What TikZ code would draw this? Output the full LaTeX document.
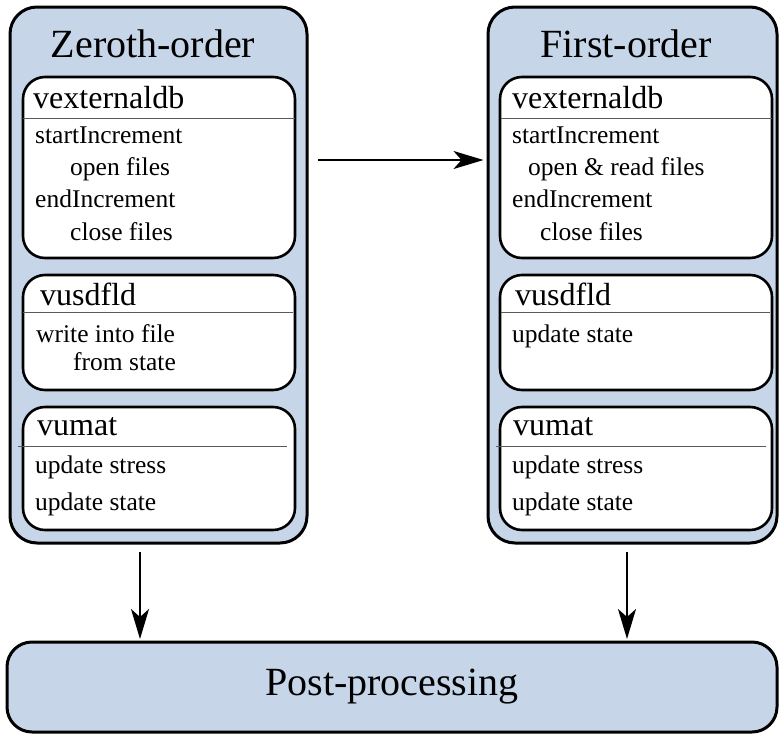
\documentclass[tikz,border=0pt]{standalone}
\usepackage{fontspec}
\setmainfont{Liberation Serif}
\usetikzlibrary{arrows.meta}
\definecolor{boxblue}{RGB}{198,214,232}
\definecolor{rulegray}{RGB}{90,90,90}
\tikzset{
  outerbox/.style={draw=black, line width=3pt, fill=boxblue, rounded corners=27pt, inner sep=0pt},
  innerbox/.style={draw=black, line width=2.6pt, fill=white, rounded corners=22pt, inner sep=0pt, minimum width=272pt},
  headrule/.style={draw=rulegray, line width=1pt},
  titletext/.style={inner sep=0pt, anchor=base, font=\fontsize{40}{48}\selectfont},
  headtext/.style={inner sep=0pt, anchor=base west, font=\fontsize{32}{38}\selectfont},
  bodytext/.style={inner sep=0pt, anchor=base west, font=\fontsize{25.5}{30}\selectfont},
  arr/.style={draw=black, line width=2pt, -{Stealth[length=30pt, width=18pt, inset=8pt]}}
}
\begin{document}
\begin{tikzpicture}[x=1pt, y=-1pt]
\useasboundingbox (0,0) rectangle (779,734);
% outer boxes
\node[outerbox, minimum width=297pt, minimum height=536pt] (zo) at (158.5,275) {};
\node[outerbox, minimum width=289pt, minimum height=536pt] (fo) at (632.5,275) {};
\node[outerbox, rounded corners=25pt, minimum width=770pt, minimum height=90pt] (post) at (392,687) {};
% titles
\node[titletext] (zot) at (153,57) {Zeroth-order};
\node[titletext] (fot) at (626,57) {First-order};
\node[titletext, anchor=center] (postt) at (post.center) {Post-processing};
% left inner boxes
\node[innerbox, minimum height=181pt] (zvx) at (159,167.5) {};
\node[innerbox, minimum height=115pt] (zvu) at (159,332.5) {};
\node[innerbox, minimum height=123pt] (zvm) at (159,468.5) {};
% right inner boxes
\node[innerbox, minimum height=181pt] (fvx) at (636,167.5) {};
\node[innerbox, minimum height=115pt] (fvu) at (636,332.5) {};
\node[innerbox, minimum height=123pt] (fvm) at (636,468.5) {};
% header rules
\draw[headrule] (23,118) -- (295,118);
\draw[headrule] (23,312) -- (293,312);
\draw[headrule] (18,446) -- (287,446);
\draw[headrule] (501,118) -- (772,118);
\draw[headrule] (501,312) -- (770,312);
\draw[headrule] (496,446) -- (766,446);
% left texts
\node[headtext] (zh1) at (33,108) {vexternaldb};
\node[bodytext] (zb1) at (35,143) {startIncrement};
\node[bodytext] (zb2) at (70,175) {open files};
\node[bodytext] (zb3) at (35,207) {endIncrement};
\node[bodytext] (zb4) at (70,240) {close files};
\node[headtext] (zh2) at (40,305) {vusdfld};
\node[bodytext] (zb5) at (36,342) {write into file};
\node[bodytext] (zb6) at (73,370) {from state};
\node[headtext] (zh3) at (37,435) {vumat};
\node[bodytext] (zb7) at (35,473) {update stress};
\node[bodytext] (zb8) at (35,510) {update state};
% right texts
\node[headtext] (fh1) at (512,108) {vexternaldb};
\node[bodytext] (fb1) at (512,143) {startIncrement};
\node[bodytext] (fb2) at (528,175) {open \& read files};
\node[bodytext] (fb3) at (512,207) {endIncrement};
\node[bodytext] (fb4) at (540,240) {close files};
\node[headtext] (fh2) at (515,305) {vusdfld};
\node[bodytext] (fb5) at (512,342) {update state};
\node[headtext] (fh3) at (513,435) {vumat};
\node[bodytext] (fb7) at (512,473) {update stress};
\node[bodytext] (fb8) at (512,510) {update state};
% connectors
\coordinate (hs) at (318,160);
\coordinate (d1) at (140,552);
\coordinate (d2) at (627,552);
\draw[arr, shorten >=3pt] (hs) -- (hs -| fo.west);
\draw[arr, shorten >=1.5pt] (d1) -- (d1 |- post.north);
\draw[arr, shorten >=1.5pt] (d2) -- (d2 |- post.north);
\end{tikzpicture}
\end{document}
